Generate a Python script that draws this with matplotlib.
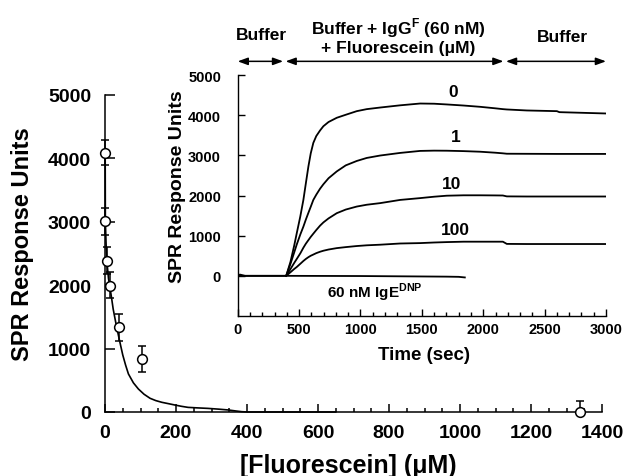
import numpy as np
import matplotlib
matplotlib.use("Agg")
import matplotlib.pyplot as plt
from matplotlib.ticker import MultipleLocator

plt.rcParams['font.family'] = ['Liberation Sans', 'DejaVu Sans']
plt.rcParams['font.weight'] = 'bold'
plt.rcParams['mathtext.fontset'] = 'custom'
plt.rcParams['mathtext.rm'] = 'Liberation Sans:bold'
plt.rcParams['mathtext.bf'] = 'Liberation Sans:bold'

# Main plot: SPR response vs fluorescein concentration
conc = [0.5, 1, 5, 13, 40, 103, 1338]
resp = [4090, 3010, 2385, 1995, 1335, 830, 0]
err_lo = [200, 220, 210, 190, 210, 200, 0]
err_hi = [200, 210, 215, 210, 210, 205, 180]

# fitted curve
fit_x = [0, 0.5, 1, 3, 5, 10, 13, 19, 23, 30, 40, 50, 58, 66, 80, 94, 110, 127, 143,
         160, 180, 197, 215, 234, 260, 290, 320, 347, 370, 385, 400, 650]
fit_y = [4100, 4090, 3010, 2650, 2390, 2100, 2000, 1780, 1625, 1420, 1150, 900, 740,
         600, 460, 363, 280, 216, 180, 153, 130, 110, 90, 73, 65, 57, 45, 32, 15, 5, 0, 0]

# Inset: sensorgrams
t_base = [0, 20, 60, 380, 395]
y_base = [20, 30, 0, 0, 0]

t_curve = [395, 430, 460, 481, 510, 535, 555, 576, 595, 616, 640, 671, 698, 740, 807,
           880, 970, 1051, 1160, 1323, 1486, 1600, 1703, 1840, 1975, 2100, 2160, 2192,
           2355, 2600, 2620, 3000]
y_0 = [0, 350, 750, 1060, 1480, 1890, 2300, 2725, 3050, 3310, 3480, 3620, 3725, 3830,
       3935, 4010, 4100, 4150, 4190, 4245, 4290, 4285, 4267, 4240, 4208, 4170, 4150,
       4142, 4117, 4100, 4075, 4042]
y_1 = [0, 300, 580, 780, 1030, 1225, 1400, 1570, 1720, 1890, 2020, 2170, 2280, 2430,
       2600, 2750, 2860, 2935, 2995, 3060, 3110, 3117, 3115, 3105, 3090, 3065, 3050,
       3040, 3038, 3035, 3035, 3035]
y_10 = [0, 170, 320, 420, 560, 700, 800, 890, 970, 1050, 1140, 1250, 1330, 1430, 1560,
        1650, 1725, 1770, 1810, 1890, 1935, 1970, 1995, 2005, 2005, 2002, 2000, 1978,
        1975, 1975, 1975, 1975]
y_100 = [0, 90, 170, 220, 300, 370, 420, 465, 500, 530, 565, 600, 625, 655, 690, 715,
         742, 760, 775, 805, 815, 830, 840, 850, 850, 850, 850, 795, 792, 792, 792, 792]

t_ige = [0, 380, 1000, 1700, 1800, 1850]
y_ige = [0, 0, -5, -20, -25, -40]

curve_labels = ['0', '1', '10', '100']
label_pos = [(1752, 4600), (1777, 3475), (1744, 2310), (1771, 1143)]

fig = plt.figure(figsize=(6.28, 4.77), dpi=100)

ax = fig.add_axes([105 / 628, 1 - 413 / 477, 497 / 628, 317 / 477])
ax.plot(fit_x, fit_y, color='black', lw=1.2, clip_on=False)
ax.errorbar(conc, resp, yerr=[err_lo, err_hi], fmt='o', ms=7, mfc='white', mec='black',
            mew=1.1, ecolor='black', elinewidth=1.1, capsize=3, capthick=1.1,
            clip_on=False, zorder=5)
ax.set_xlim(0, 1400)
ax.set_ylim(0, 5000)
ax.spines['top'].set_visible(False)
ax.spines['right'].set_visible(False)
for s in ax.spines.values():
    s.set_linewidth(1.1)
ax.xaxis.set_major_locator(MultipleLocator(200))
ax.xaxis.set_minor_locator(MultipleLocator(50))
ax.yaxis.set_major_locator(MultipleLocator(1000))
ax.tick_params(which='both', direction='in', width=1.1, labelsize=14)
ax.tick_params(axis='x', which='major', length=6, pad=9)
ax.tick_params(axis='x', which='minor', length=3)
ax.tick_params(axis='y', which='major', length=7, pad=10)
for lab in ax.get_xticklabels() + ax.get_yticklabels():
    lab.set_fontweight('bold')
fig.text(23 / 628, 1 - 244 / 477, 'SPR Response Units', rotation=90, ha='center',
         va='center', fontsize=17, fontweight='bold')
fig.text(348 / 628, 1 - 466 / 477, '[Fluorescein] (μM)', ha='center', va='center',
         fontsize=18, fontweight='bold')

# inset
ins = fig.add_axes([237.7 / 628, 1 - 317 / 477, 368.3 / 628, 241 / 477])
ins.patch.set_alpha(0)
ins.plot(t_base, y_base, color='black', lw=1.3)
for yy in [y_0, y_1, y_10, y_100]:
    ins.plot(t_curve, yy, color='black', lw=1.3)
ins.plot(t_ige, y_ige, color='black', lw=1.3)
ins.set_xlim(0, 3000)
ins.set_ylim(-1000, 5000)
ins.spines['top'].set_visible(False)
ins.spines['right'].set_visible(False)
for s in ins.spines.values():
    s.set_linewidth(1.0)
ins.xaxis.set_major_locator(MultipleLocator(500))
ins.xaxis.set_minor_locator(MultipleLocator(100))
ins.set_yticks([0, 1000, 2000, 3000, 4000, 5000])
ins.tick_params(which='both', direction='in', width=1.0, labelsize=10.5)
ins.tick_params(axis='x', which='major', length=5, pad=4)
ins.tick_params(axis='x', which='minor', length=3)
ins.tick_params(axis='y', which='major', length=5, pad=12)
for lab in ins.get_xticklabels() + ins.get_yticklabels():
    lab.set_fontweight('bold')
fig.text(178 / 628, 1 - 187 / 477, 'SPR Response Units', rotation=90, ha='center',
         va='center', fontsize=14, fontweight='bold')
fig.text(424 / 628, 1 - 356 / 477, 'Time (sec)', ha='center', va='center',
         fontsize=13.5, fontweight='bold')

for lab, (tx, ty) in zip(curve_labels, label_pos):
    ins.text(tx, ty, lab, ha='center', va='center', fontsize=12.5, fontweight='bold')
ins.text(1119, -400, r'60 nM IgE$^{\mathbf{DNP}}$', ha='center', va='center',
         fontsize=11, fontweight='bold')

# phase arrows and labels above the inset
arrow_y = 5340
for x0, x1 in [(0, 370), (390, 2165), (2185, 3000)]:
    ins.annotate('', xy=(x1, arrow_y), xytext=(x0, arrow_y), annotation_clip=False,
                 arrowprops=dict(arrowstyle='<|-|>,head_length=0.6,head_width=0.22',
                                 color='black', lw=1.1, shrinkA=0, shrinkB=0))
fig.text(261 / 628, 1 - 36 / 477, 'Buffer', ha='center', va='center', fontsize=12.5,
         fontweight='bold')
fig.text(398 / 628, 1 - 28 / 477, r'Buffer + IgG$^{\mathbf{F}}$ (60 nM)', ha='center',
         va='center', fontsize=12.5, fontweight='bold')
fig.text(398 / 628, 1 - 48 / 477, '+ Fluorescein (μM)', ha='center', va='center',
         fontsize=12.5, fontweight='bold')
fig.text(562 / 628, 1 - 37 / 477, 'Buffer', ha='center', va='center', fontsize=12.5,
         fontweight='bold')

fig.savefig('out.png', dpi=100)
